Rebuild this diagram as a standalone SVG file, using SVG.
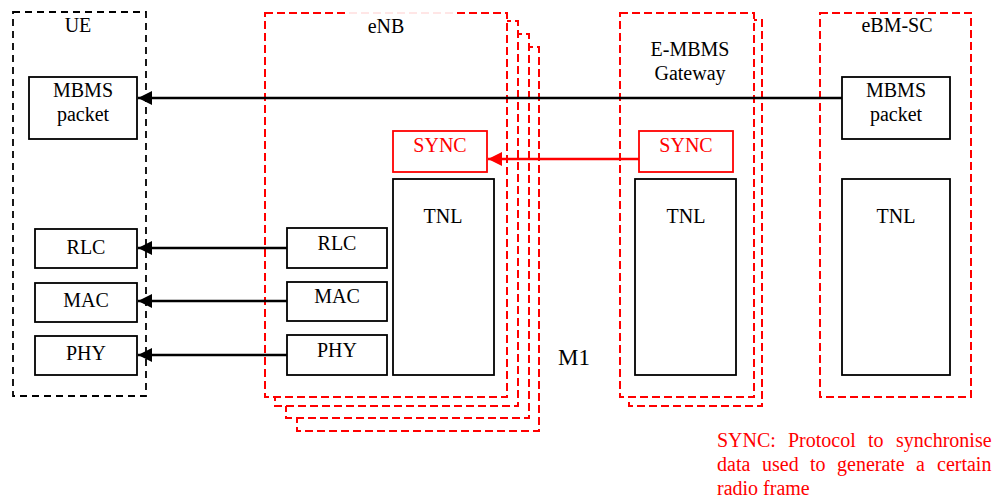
<svg xmlns="http://www.w3.org/2000/svg" width="994" height="499" viewBox="0 0 994 499">
<style>
text{font-family:"Liberation Serif","Times New Roman",serif;font-size:20px;fill:#000;text-anchor:middle}
.red{fill:#f00}
.note{fill:#f00;font-size:20px;text-anchor:start}
.frame{fill:#fff;stroke:#f00;stroke-width:2;stroke-dasharray:8 4}
.ue{fill:none;stroke:#000;stroke-width:1.8;stroke-dasharray:7 5}
.box{fill:#fff;stroke:#000;stroke-width:1.8}
.rbox{fill:#fff;stroke:#f00;stroke-width:1.8}
.arr{stroke:#000;stroke-width:2.4;fill:none;marker-end:url(#ah)}
.rarr{stroke:#f00;stroke-width:2.4;fill:none;marker-end:url(#rah)}
</style>
<defs>
<marker id="ah" markerWidth="16" markerHeight="14" refX="14" refY="7" orient="auto" markerUnits="userSpaceOnUse"><path d="M0,0 L14,7 L0,14 Z" fill="#000"/></marker>
<marker id="rah" markerWidth="16" markerHeight="14" refX="14" refY="7" orient="auto" markerUnits="userSpaceOnUse"><path d="M0,0 L14,7 L0,14 Z" fill="#f00"/></marker>
</defs>
<g id="ue">
<rect class="ue" x="13" y="12" width="133" height="384"/>
<text x="78" y="32">UE</text>
</g>
<g id="enb">
<rect class="frame" x="297" y="47" width="242" height="384"/>
<rect class="frame" x="286" y="34" width="243" height="384"/>
<rect class="frame" x="275" y="21" width="243" height="385"/>
<rect class="frame" x="265" y="13" width="242" height="384"/>
<rect x="349" y="10" width="104" height="6" fill="#fff" opacity="0.9"/>
<text x="386" y="33">eNB</text>
</g>
<g id="gw">
<rect class="frame" x="629" y="20" width="133" height="386"/>
<rect class="frame" x="620" y="13" width="134" height="384"/>
<text x="690" y="56">E-MBMS</text>
<text x="690" y="80">Gateway</text>
</g>
<g id="ebmsc">
<rect class="frame" x="820" y="13" width="151" height="384"/>
<text x="897" y="32">eBM-SC</text>
</g>
<g id="ue-mbms"><rect class="box" x="29" y="77" width="108" height="62"/><text x="83" y="97">MBMS</text><text x="83" y="121">packet</text></g>
<g id="ue-rlc"><rect class="box" x="35" y="229" width="102" height="39"/><text x="86" y="254">RLC</text></g>
<g id="ue-mac"><rect class="box" x="35" y="283" width="102" height="39"/><text x="86" y="307">MAC</text></g>
<g id="ue-phy"><rect class="box" x="35" y="336" width="102" height="39"/><text x="86" y="360">PHY</text></g>
<g id="enb-rlc"><rect class="box" x="287" y="228" width="100" height="40"/><text x="337" y="250">RLC</text></g>
<g id="enb-mac"><rect class="box" x="287" y="282" width="100" height="39"/><text x="337" y="303">MAC</text></g>
<g id="enb-phy"><rect class="box" x="287" y="335" width="100" height="40"/><text x="337" y="357">PHY</text></g>
<g id="enb-sync"><rect class="rbox" x="393" y="131" width="94" height="41"/><text class="red" x="440" y="152">SYNC</text></g>
<g id="enb-tnl"><rect class="box" x="393" y="179" width="101" height="196"/><text x="443" y="223">TNL</text></g>
<g id="gw-sync"><rect class="rbox" x="639" y="131" width="94" height="41"/><text class="red" x="686" y="152">SYNC</text></g>
<g id="gw-tnl"><rect class="box" x="635" y="179" width="101" height="196"/><text x="686" y="223">TNL</text></g>
<g id="ebmsc-mbms"><rect class="box" x="842" y="77" width="108" height="62"/><text x="896" y="97">MBMS</text><text x="896" y="121">packet</text></g>
<g id="ebmsc-tnl"><rect class="box" x="842" y="179" width="108" height="196"/><text x="896" y="223">TNL</text></g>
<g id="connectors">
<line class="arr" x1="842" y1="98" x2="138" y2="98"/>
<line class="rarr" x1="639" y1="159" x2="488" y2="159"/>
<line class="arr" x1="287" y1="248" x2="138" y2="248"/>
<line class="arr" x1="287" y1="301" x2="138" y2="301"/>
<line class="arr" x1="287" y1="355" x2="138" y2="355"/>
</g>
<text x="574" y="365" style="font-size:23px">M1</text>
<g id="note">
<text class="note" y="447"><tspan x="717">SYNC:</tspan><tspan x="788">Protocol</tspan><tspan x="868">to</tspan><tspan x="896">synchronise</tspan></text>
<text class="note" y="471"><tspan x="717">data</tspan><tspan x="762">used</tspan><tspan x="810">to</tspan><tspan x="837">generate</tspan><tspan x="916">a</tspan><tspan x="937">certain</tspan></text>
<text class="note" x="717" y="495">radio frame</text>
</g>
</svg>
